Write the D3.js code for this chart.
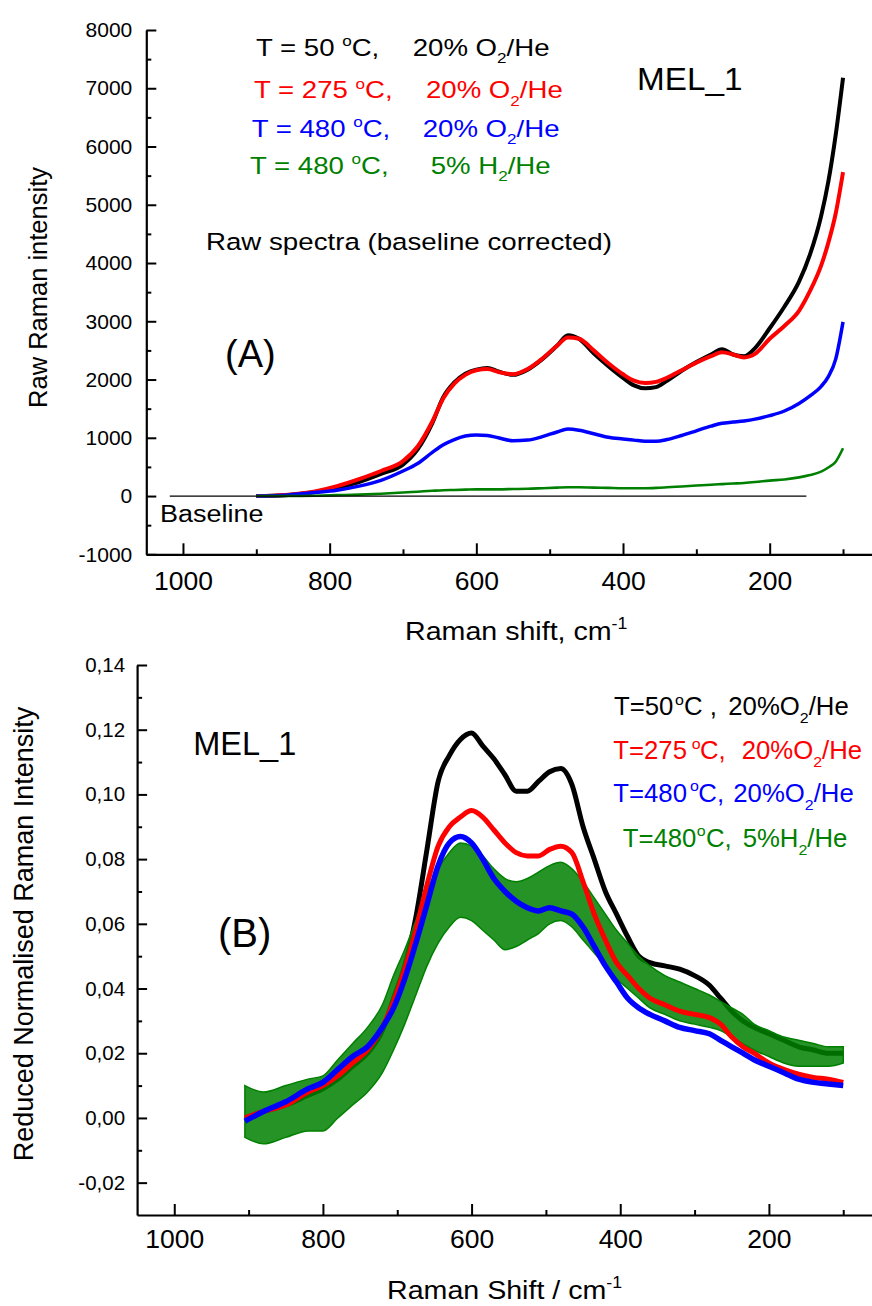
<!DOCTYPE html>
<html><head><meta charset="utf-8">
<script src="https://cdn.jsdelivr.net/npm/d3@7"></script>
<style>
body{margin:0;background:#fff}
svg{display:block}
text{font-family:"Liberation Sans",Arial,sans-serif;white-space:pre}
</style>
</head><body>
<svg id="c" width="872" height="1306"></svg>
<script>
// ---------- Panel A data (Raw Raman intensity) ----------
const shiftA = [900,860,820,790,760,730,700,680,660,645,630,615,600,585,570,550,530,510,490,475,460,440,420,400,385,370,355,340,320,300,280,265,250,235,220,200,180,160,145,130,120,110,100];
const blackA = [0,15,70,140,240,380,540,800,1250,1700,1950,2100,2170,2200,2140,2080,2170,2350,2580,2760,2700,2450,2230,2030,1900,1850,1870,1980,2150,2300,2430,2520,2430,2400,2540,2880,3250,3680,4150,4800,5400,6200,7180];
const redA   = [0,20,80,170,290,430,600,850,1280,1680,1930,2080,2160,2180,2130,2090,2180,2360,2580,2720,2700,2500,2280,2090,1980,1940,1960,2030,2160,2290,2400,2470,2430,2380,2440,2700,2920,3180,3520,3950,4350,4850,5560];
const blueA  = [0,15,60,100,170,270,430,560,750,880,970,1030,1050,1040,1000,950,960,1020,1100,1150,1130,1070,1010,980,960,940,940,970,1040,1120,1200,1250,1270,1290,1320,1380,1460,1590,1720,1880,2050,2350,2990];
const greenA = [0,0,5,15,25,40,60,75,90,100,105,110,115,115,115,120,125,135,145,150,150,145,140,135,135,135,140,150,165,180,195,205,215,225,240,265,285,320,360,420,490,590,820];
const baselineA = [1018,150];
const yTicksA = [-1000,0,1000,2000,3000,4000,5000,6000,7000,8000];
const yMinorA = [-500,500,1500,2500,3500,4500,5500,6500,7500];
const xTicks = [1000,800,600,400,200];
const xMinor = [900,700,500,300,100];

// ---------- Panel B data (Reduced normalised intensity) ----------
const shiftB = [905,880,850,820,800,780,760,740,720,705,690,675,660,645,630,615,600,585,570,555,540,525,510,495,480,465,450,435,420,405,390,375,360,340,320,300,280,265,250,235,220,200,180,160,140,120,100];
const blackB = [0.000,0.002,0.004,0.007,0.009,0.012,0.016,0.020,0.027,0.037,0.047,0.062,0.083,0.104,0.112,0.117,0.119,0.115,0.111,0.106,0.101,0.101,0.104,0.107,0.108,0.103,0.090,0.080,0.070,0.063,0.056,0.050,0.048,0.047,0.046,0.044,0.041,0.037,0.033,0.030,0.028,0.026,0.024,0.022,0.021,0.020,0.020];
const redB   = [0.000,0.002,0.004,0.008,0.010,0.013,0.017,0.021,0.028,0.036,0.046,0.058,0.072,0.084,0.090,0.093,0.095,0.093,0.089,0.085,0.082,0.081,0.081,0.083,0.084,0.082,0.073,0.063,0.055,0.048,0.044,0.040,0.037,0.035,0.033,0.032,0.031,0.029,0.025,0.022,0.020,0.017,0.015,0.0135,0.0125,0.012,0.011];
const blueB  = [-0.001,0.002,0.005,0.009,0.011,0.015,0.019,0.022,0.028,0.034,0.043,0.054,0.066,0.078,0.085,0.087,0.085,0.080,0.074,0.070,0.067,0.065,0.064,0.065,0.064,0.063,0.059,0.053,0.047,0.042,0.037,0.034,0.032,0.030,0.028,0.027,0.026,0.024,0.022,0.020,0.018,0.016,0.014,0.012,0.011,0.0105,0.010];
const greenBLow  = [-0.006,-0.008,-0.006,-0.004,-0.004,0.000,0.004,0.008,0.014,0.021,0.029,0.038,0.047,0.054,0.059,0.062,0.061,0.058,0.055,0.052,0.053,0.055,0.057,0.060,0.061,0.059,0.055,0.051,0.047,0.043,0.040,0.037,0.034,0.032,0.030,0.029,0.028,0.027,0.025,0.023,0.021,0.019,0.017,0.016,0.016,0.016,0.017];
const greenBHigh = [0.010,0.008,0.010,0.012,0.013,0.018,0.023,0.028,0.035,0.044,0.052,0.061,0.070,0.077,0.082,0.085,0.084,0.081,0.077,0.074,0.073,0.074,0.076,0.078,0.079,0.077,0.073,0.068,0.063,0.058,0.054,0.050,0.047,0.044,0.042,0.040,0.038,0.036,0.034,0.032,0.029,0.027,0.025,0.024,0.023,0.022,0.022];
const yTicksB = [-0.02,0,0.02,0.04,0.06,0.08,0.10,0.12,0.14];
const yMinorB = [-0.01,0.01,0.03,0.05,0.07,0.09,0.11,0.13];

const C = {black:"#000000", red:"#ff0000", blue:"#0000ff", green:"#008000"};

const svg = d3.select("#c");

function rich(sel, x, y, parts, fs, color, sx, anchor) {
  sx = sx || 1;
  const t = sel.append("text")
    .attr("transform", `translate(${x},${y}) scale(${sx},1)`)
    .attr("font-size", fs).attr("fill", color);
  if (anchor) t.attr("text-anchor", anchor);
  let shift = 0;
  parts.forEach(p => {
    const s = t.append("tspan").text(p.t);
    const target = p.sup ? -0.42*fs : (p.sub ? 0.32*fs : 0);
    if (target - shift !== 0) s.attr("dy", target - shift);
    shift = target;
    if (p.sup || p.sub) s.attr("font-size", fs*0.62);
    if (p.x != null) s.attr("x", (p.x - x)/sx);
  });
  return t;
}

function styleAxis(g) {
  g.select(".domain").attr("stroke", "#000").attr("stroke-width", 2.2);
  g.selectAll(".tick line").attr("stroke", "#000").attr("stroke-width", 2);
}

// ================= Panel A =================
const xA = d3.scaleLinear().domain([1050, 50]).range([146.3, 879.7]);
const yA = d3.scaleLinear().domain([-1000, 8000]).range([554.3, 30]);
const gA = svg.append("g");

const lineA = arr => d3.line().curve(d3.curveMonotoneX).x((d,i)=>xA(shiftA[i])).y(d=>yA(d))(arr);
[[blackA,C.black,4],[redA,C.red,4],[blueA,C.blue,3.5],[greenA,C.green,2.6]].forEach(([arr,col,w])=>{
  gA.append("path").attr("d", lineA(arr)).attr("fill","none").attr("stroke",col)
    .attr("stroke-width",w).attr("stroke-linejoin","round");
});
gA.append("line").attr("x1", xA(baselineA[0])).attr("x2", xA(baselineA[1]))
  .attr("y1", yA(0)).attr("y2", yA(0)).attr("stroke","#000").attr("stroke-width",1.2);

const axYA = gA.append("g").attr("transform", `translate(${xA.range()[0]},0)`)
  .call(d3.axisLeft(yA).tickValues(yTicksA).tickSize(-10).tickSizeOuter(0).tickPadding(14).tickFormat(d=>String(d)));
axYA.selectAll("text").attr("font-size", 21).attr("font-family","Liberation Sans, Arial, sans-serif").attr("fill","#000");
styleAxis(axYA);
const axYAm = gA.append("g").attr("transform", `translate(${xA.range()[0]},0)`)
  .call(d3.axisLeft(yA).tickValues(yMinorA).tickSize(-5).tickSizeOuter(0).tickFormat(""));
axYAm.select(".domain").remove(); styleAxis(axYAm);

const axXA = gA.append("g").attr("transform", `translate(0,${yA.range()[0]})`)
  .call(d3.axisBottom(xA).tickValues(xTicks).tickSize(-11).tickSizeOuter(0).tickPadding(17).tickFormat(d=>String(d)));
axXA.selectAll("text").attr("font-size", 26.5).attr("font-family","Liberation Sans, Arial, sans-serif").attr("fill","#000");
styleAxis(axXA);
const axXAm = gA.append("g").attr("transform", `translate(0,${yA.range()[0]})`)
  .call(d3.axisBottom(xA).tickValues(xMinor).tickSize(-5).tickSizeOuter(0).tickFormat(""));
axXAm.select(".domain").remove(); styleAxis(axXAm);

gA.append("text").attr("transform","translate(47,287.5) rotate(-90)").attr("text-anchor","middle")
  .attr("font-size",25.5).text("Raw Raman intensity");
rich(gA, 405, 640, [{t:"Raman shift, cm"},{t:"-1",sup:true}], 26, "#000", 1.1);

const legA = [
  {col:C.black, y:56,   x0:256,   x2:412.7, t1:"T = 50 ",  p2:"20% O"},
  {col:C.red,   y:98.3, x0:254,   x2:426,   t1:"T = 275 ", p2:"20% O"},
  {col:C.blue,  y:136.7,x0:251.7, x2:422.7, t1:"T = 480 ", p2:"20% O"},
  {col:C.green, y:174,  x0:250,   x2:430.7, t1:"T = 480 ", p2:"5% H"}
];
legA.forEach(L=>{
  rich(gA, L.x0, L.y, [{t:L.t1},{t:"o",sup:true},{t:"C,"}], 23, L.col, 1.2);
  rich(gA, L.x2, L.y, [{t:L.p2},{t:"2",sub:true},{t:"/He"}], 23, L.col, 1.2);
});
rich(gA, 206, 250, [{t:"Raw spectra (baseline corrected)"}], 24.5, "#000", 1.13);
rich(gA, 637, 90, [{t:"MEL_1"}], 32, "#000", 1.04);
gA.append("text").attr("x",225).attr("y",367).attr("font-family","Lato, 'Open Sans', sans-serif")
  .attr("font-size",38).text("(A)");
rich(gA, 160, 521.7, [{t:"Baseline"}], 24.5, "#000", 1.1);

// ================= Panel B =================
const xB = d3.scaleLinear().domain([1050, 50]).range([137.1, 880.4]);
const yB = d3.scaleLinear().domain([-0.03, 0.14]).range([1215, 665]);
const gB = svg.append("g");

const lineB = arr => d3.line().curve(d3.curveMonotoneX).x((d,i)=>xB(shiftB[i])).y(d=>yB(d))(arr);
gB.append("path").attr("d", lineB(blackB)).attr("fill","none").attr("stroke",C.black).attr("stroke-width",5).attr("stroke-linejoin","round");
const areaG = d3.area().curve(d3.curveMonotoneX).x((d,i)=>xB(shiftB[i])).y0((d,i)=>yB(greenBLow[i])).y1((d,i)=>yB(greenBHigh[i]));
gB.append("path").attr("d", areaG(shiftB)).attr("fill",C.green).attr("fill-opacity",0.85)
  .attr("stroke",C.green).attr("stroke-width",1.5);
gB.append("path").attr("d", lineB(redB)).attr("fill","none").attr("stroke",C.red).attr("stroke-width",5).attr("stroke-linejoin","round");
gB.append("path").attr("d", lineB(blueB)).attr("fill","none").attr("stroke",C.blue).attr("stroke-width",5.5).attr("stroke-linejoin","round");

const fmtB = d => d.toFixed(2).replace(".", ",");
const axYB = gB.append("g").attr("transform", `translate(${xB.range()[0]},0)`)
  .call(d3.axisLeft(yB).tickValues(yTicksB).tickSize(-10).tickSizeOuter(0).tickPadding(12).tickFormat(fmtB));
axYB.selectAll("text").attr("font-size", 20.5).attr("font-family","Liberation Sans, Arial, sans-serif").attr("fill","#000");
styleAxis(axYB);
const axYBm = gB.append("g").attr("transform", `translate(${xB.range()[0]},0)`)
  .call(d3.axisLeft(yB).tickValues(yMinorB).tickSize(-5).tickSizeOuter(0).tickFormat(""));
axYBm.select(".domain").remove(); styleAxis(axYBm);

const axXB = gB.append("g").attr("transform", `translate(0,${yB.range()[0]})`)
  .call(d3.axisBottom(xB).tickValues(xTicks).tickSize(-11).tickSizeOuter(0).tickPadding(14.5).tickFormat(d=>String(d)));
axXB.selectAll("text").attr("font-size", 26.5).attr("font-family","Liberation Sans, Arial, sans-serif").attr("fill","#000");
styleAxis(axXB);
const axXBm = gB.append("g").attr("transform", `translate(0,${yB.range()[0]})`)
  .call(d3.axisBottom(xB).tickValues(xMinor).tickSize(-5).tickSizeOuter(0).tickFormat(""));
axXBm.select(".domain").remove(); styleAxis(axXBm);

gB.append("text").attr("transform","translate(33,934) rotate(-90)").attr("text-anchor","middle")
  .attr("font-size",27).text("Reduced Normalised Raman Intensity");
rich(gB, 387, 1299, [{t:"Raman Shift / cm"},{t:"-1",sup:true}], 26, "#000", 1.1);

const legB = [
  {col:C.black, y:715,   x0:614,   t1:"T=50",  xo:675,   xc:684,   t2:" , ", x2:728.3, p2:"20%O"},
  {col:C.red,   y:759.3, x0:613.3, t1:"T=275", xo:691.7, xc:700,   t2:",  ", x2:741.7, p2:"20%O"},
  {col:C.blue,  y:801.7, x0:613.3, t1:"T=480", xo:690,   xc:698.3, t2:", ",  x2:733.3, p2:"20%O"},
  {col:C.green, y:846.7, x0:622.7, t1:"T=480", xo:696.7, xc:706,   t2:", ",  x2:742.7, p2:"5%H"}
];
legB.forEach(L=>{
  rich(gB, L.x0, L.y, [{t:L.t1},{t:"o",sup:true,x:L.xo},{t:"C"+L.t2,x:L.xc},{t:L.p2,x:L.x2},{t:"2",sub:true},{t:"/He"}], 25, L.col, 1.03);
});
rich(gB, 193.3, 755, [{t:"MEL_1"}], 32.5, "#000", 1.0);
gB.append("text").attr("x",218).attr("y",947).attr("font-family","Lato, 'Open Sans', sans-serif")
  .attr("font-size",40).text("(B)");
</script>
</body></html>
